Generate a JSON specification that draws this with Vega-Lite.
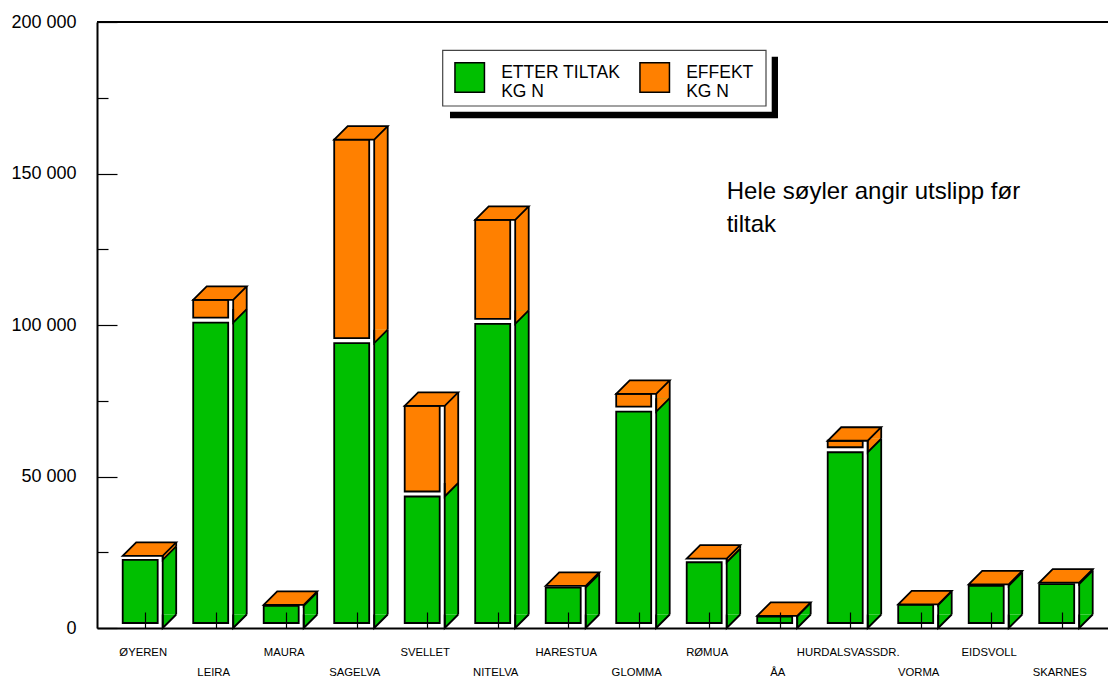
{
  "$schema": "https://vega.github.io/schema/vega-lite/v6.json",
  "width": 1011,
  "height": 606,
  "autosize": "none",
  "padding": {"left": 97, "top": 22, "right": 0, "bottom": 49},
  "background": "white",
  "config": {"view": {"stroke": null}, "font": "Liberation Sans"},
  "data": {
    "values": [
      {"omrade": "ØYEREN", "ETTER TILTAK": 22500, "EFFEKT": 1300},
      {"omrade": "LEIRA", "ETTER TILTAK": 100800, "EFFEKT": 7500},
      {"omrade": "MAURA", "ETTER TILTAK": 7300, "EFFEKT": 300},
      {"omrade": "SAGELVA", "ETTER TILTAK": 94000, "EFFEKT": 67200},
      {"omrade": "SVELLET", "ETTER TILTAK": 43400, "EFFEKT": 29900},
      {"omrade": "NITELVA", "ETTER TILTAK": 100400, "EFFEKT": 34300},
      {"omrade": "HARESTUA", "ETTER TILTAK": 13300, "EFFEKT": 600},
      {"omrade": "GLOMMA", "ETTER TILTAK": 71400, "EFFEKT": 5900},
      {"omrade": "RØMUA", "ETTER TILTAK": 21700, "EFFEKT": 1200},
      {"omrade": "ÅA", "ETTER TILTAK": 3800, "EFFEKT": 200},
      {"omrade": "HURDALSVASSDR.", "ETTER TILTAK": 58000, "EFFEKT": 3800},
      {"omrade": "VORMA", "ETTER TILTAK": 7600, "EFFEKT": 200},
      {"omrade": "EIDSVOLL", "ETTER TILTAK": 13900, "EFFEKT": 500},
      {"omrade": "SKARNES", "ETTER TILTAK": 14500, "EFFEKT": 500}
    ]
  },
  "transform": [
    {"fold": ["ETTER TILTAK", "EFFEKT"], "as": ["tiltak", "kg"]},
    {"stack": "kg", "groupby": ["omrade"], "sort": [{"field": "tiltak", "order": "descending"}], "as": ["lo", "hi"]}
  ],
  "layer": [
    {
      "description": "side faces: one rect per segment, lifted by the box depth",
      "mark": {"type": "bar", "width": {"band": 0.3375}, "xOffset": 26.75, "yOffset": -13.5, "y2Offset": -13.5, "strokeWidth": 0},
      "encoding": {
        "x": {
          "field": "omrade", "type": "nominal", "sort": null,
          "scale": {
            "domain": ["ØYEREN", "LEIRA", "MAURA", "SAGELVA", "SVELLET", "NITELVA", "HARESTUA", "GLOMMA", "RØMUA", "ÅA", "HURDALSVASSDR.", "VORMA", "EIDSVOLL", "SKARNES"],
            "paddingInner": 0.4326, "paddingOuter": 0.3865, "align": 0.4716
          },
          "axis": {
            "title": null, "domainColor": "black", "domainWidth": 2,
            "tickColor": "black", "tickWidth": 1.2, "tickSize": -16, "tickOffset": 2.5,
            "labelFont": "Liberation Sans", "labelFontSize": 11.3, "labelColor": "black", "labelAngle": 0,
            "labelOffset": -2.5, "labelBaseline": "top", "labelAlign": "center", "labelOverlap": false, "labelLimit": 300,
            "labelPadding": {"condition": {"test": "indexof(domain('x'), datum.value) % 2 === 1", "value": 54}, "value": 34},
            "zindex": 1
          }
        },
        "y": {
          "field": "hi", "type": "quantitative",
          "scale": {"domain": [0, 200000], "nice": false},
          "axis": {
            "title": null, "grid": false,
            "values": [0, 25000, 50000, 75000, 100000, 125000, 150000, 175000, 200000],
            "domainColor": "black", "domainWidth": 2,
            "tickColor": "black", "tickWidth": 1.2,
            "tickSize": {"condition": {"test": "datum.value % 50000 === 0", "value": -20}, "value": -11},
            "labelExpr": "datum.value % 50000 === 0 ? replace(format(datum.value, ','), ',', ' ') : ''",
            "labelFont": "Liberation Sans", "labelFontSize": 18, "labelColor": "black", "labelPadding": 41,
            "zindex": 1
          }
        },
        "y2": {"field": "lo"},
        "fill": {
          "field": "tiltak", "type": "nominal",
          "scale": {"domain": ["ETTER TILTAK", "EFFEKT"], "range": ["#00BF00", "#FF8000"]},
          "legend": {
            "orient": "none", "legendX": 344.7, "legendY": 27.3, "direction": "horizontal", "columns": 2, "title": null,
            "symbolType": "square", "symbolSize": 870, "symbolStrokeColor": "black", "symbolStrokeWidth": 1.5,
            "labelExpr": "[datum.label, 'KG N']", "labelFont": "Liberation Sans", "labelFontSize": 17.5,
            "labelBaseline": "alphabetic",
            "labelColor": "black", "labelOffset": 16, "labelLimit": 300, "columnPadding": 16,
            "padding": 12.5, "strokeColor": "transparent", "zindex": 3,
            "encode": {"labels": {"lineHeight": {"value": 20}}}
          }
        },
        "opacity": {
          "field": "tiltak", "type": "nominal",
          "scale": {"range": [1, 1]},
          "legend": {
            "orient": "none", "legendX": 505.35, "legendY": 54.15, "values": ["ETTER TILTAK"], "title": null,
            "symbolType": "M-161.65,-27.85H161.65V27.85H-161.65Z", "symbolSize": 4,
            "symbolFillColor": "white", "symbolStrokeColor": "#444444", "symbolStrokeWidth": 1.2,
            "labelExpr": "''", "labelFontSize": 1, "labelOffset": 0, "padding": 0, "zindex": 2
          }
        }
      }
    },
    {
      "description": "side faces: lower-left wedge of each segment with its diagonal edge",
      "mark": {"type": "point", "shape": "M20,-13.5L20,0L33.5,-13.5", "size": 4, "filled": true, "opacity": 1, "stroke": "black", "strokeWidth": 1.8},
      "encoding": {
        "x": {"field": "omrade", "type": "nominal", "sort": null},
        "y": {"field": "lo", "type": "quantitative"},
        "fill": {"field": "tiltak", "type": "nominal"}
      }
    },
    {
      "description": "side faces: front vertical edge",
      "mark": {"type": "rule", "xOffset": 20, "stroke": "black", "strokeWidth": 1.8},
      "encoding": {
        "x": {"field": "omrade", "type": "nominal", "sort": null},
        "y": {"field": "hi", "type": "quantitative"},
        "y2": {"field": "lo"}
      }
    },
    {
      "description": "side faces: back vertical edge",
      "mark": {"type": "rule", "xOffset": 33.5, "yOffset": -13.5, "y2Offset": -13.5, "stroke": "black", "strokeWidth": 1.8},
      "encoding": {
        "x": {"field": "omrade", "type": "nominal", "sort": null},
        "y": {"field": "hi", "type": "quantitative"},
        "y2": {"field": "lo"}
      }
    },
    {
      "description": "front faces, with a white gap at right and bottom",
      "transform": [{"filter": "datum.kg >= 2000"}],
      "mark": {"type": "bar", "width": {"band": 0.875}, "xOffset": -2.5, "y2Offset": -5, "strokeWidth": 1.8},
      "encoding": {
        "x": {"field": "omrade", "type": "nominal", "sort": null},
        "y": {"field": "hi", "type": "quantitative"},
        "y2": {"field": "lo"},
        "fill": {"field": "tiltak", "type": "nominal"},
        "stroke": {
          "field": "tiltak", "type": "nominal",
          "scale": {"domain": ["EFFEKT", "ETTER TILTAK"], "range": ["black", "black"]},
          "legend": {
            "orient": "none", "legendX": 505.35, "legendY": 54.15, "values": ["EFFEKT"], "title": null,
            "symbolType": "M168.35,-20.45H174.65V41.15H-153.35V34.55H168.35Z", "symbolSize": 4,
            "symbolFillColor": "black", "symbolStrokeWidth": 0,
            "labelExpr": "''", "labelFontSize": 1, "labelOffset": 0, "padding": 0, "zindex": 1
          }
        }
      }
    },
    {
      "description": "top faces",
      "transform": [{"filter": "datum.tiltak === 'EFFEKT'"}],
      "mark": {"type": "point", "shape": "M-20,0L20,0L33.5,-13.5L-6.5,-13.5Z", "size": 4, "filled": true, "opacity": 1, "fill": "#FF8000", "stroke": "black", "strokeWidth": 1.8},
      "encoding": {
        "x": {"field": "omrade", "type": "nominal", "sort": null},
        "y": {"field": "hi", "type": "quantitative"}
      }
    },
    {
      "data": {"values": [{}]},
      "mark": {"type": "rule", "stroke": "black", "strokeWidth": 2},
      "encoding": {"y": {"datum": 200000}}
    },
    {
      "data": {"values": [{}]},
      "mark": {
        "type": "text", "text": ["Hele søyler angir utslipp før", "tiltak"],
        "align": "left", "baseline": "top", "dx": 20, "font": "Liberation Sans", "fontSize": 24, "lineHeight": 33, "color": "black"
      },
      "encoding": {
        "x": {"datum": "RØMUA", "type": "nominal"},
        "y": {"datum": 147700}
      }
    }
  ]
}
